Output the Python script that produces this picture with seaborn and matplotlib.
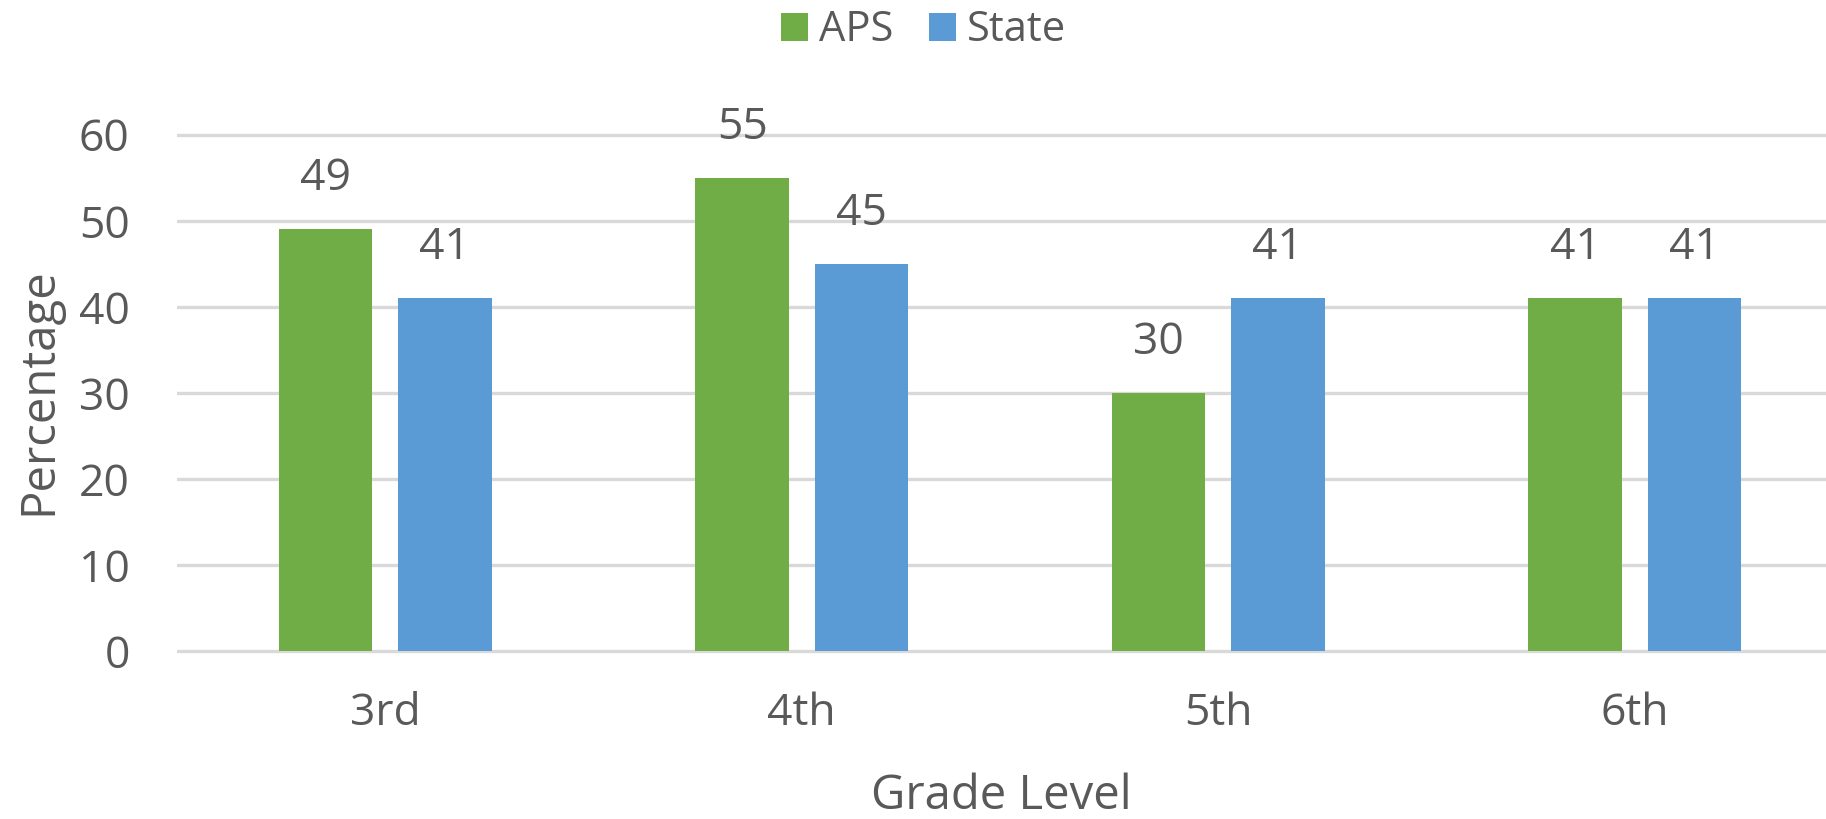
import matplotlib
matplotlib.use("Agg")
import matplotlib.pyplot as plt
import pandas as pd
import seaborn as sns

# values
grades = ["3rd", "4th", "5th", "6th"]
aps = [49, 55, 30, 41]
state = [41, 45, 41, 41]
series = ["APS", "State"]
yticks = [0, 10, 20, 30, 40, 50, 60]

GREEN = "#70AD47"
BLUE = "#5B9BD5"
TEXT = "#595959"
GRID = "#D9D9D9"

sns.set_theme(style="white")
plt.rcParams["font.family"] = ["Open Sans", "DejaVu Sans"]
plt.rcParams["text.color"] = TEXT

df = pd.DataFrame({
    "Grade": grades * 2,
    "Series": [series[0]] * len(grades) + [series[1]] * len(grades),
    "Value": aps + state,
})

fig = plt.figure(figsize=(18.26, 8.19), dpi=100)
ax = fig.add_axes([0.0969, 0.1999, 0.9031, 0.6461])

sns.barplot(data=df, x="Grade", y="Value", hue="Series", order=grades,
            hue_order=series, palette=[GREEN, BLUE], width=0.573, gap=0.215,
            saturation=1, linewidth=0, ax=ax, zorder=3)

# value labels above each bar
for cont in ax.containers:
    for bar, v in zip(cont, cont.datavalues):
        ax.annotate(f"{v:.0f}", (bar.get_x() + bar.get_width() / 2, bar.get_height()),
                    xytext=(0, 28), textcoords="offset points",
                    ha="center", va="baseline", fontsize=32, color=TEXT)

ax.set_ylim(-0.5, 61)
ax.set_xlim(-0.5, 3.459)
ax.set_yticks(yticks)
ax.yaxis.grid(True, color=GRID, linewidth=2.4, zorder=0)
ax.set_axisbelow(True)
for s in ax.spines.values():
    s.set_visible(False)
ax.tick_params(axis="y", length=0, pad=34, labelsize=32, labelcolor=TEXT)
ax.tick_params(axis="x", length=0, pad=26, labelsize=32, labelcolor=TEXT)

ax.set_xlabel("Grade Level", fontsize=34, color=TEXT, labelpad=26)
ax.set_ylabel("Percentage", fontsize=34, color=TEXT, labelpad=12)

ax.legend_.remove()
handles, labels = ax.get_legend_handles_labels()
fig.legend(handles, labels, loc="center", bbox_to_anchor=(0.5057, 0.963),
           ncol=2, frameon=False, fontsize=30, handlelength=0.65,
           handleheight=0.65, handletextpad=0.26, columnspacing=0.84,
           labelcolor=TEXT)

fig.savefig("out.png", dpi=100)
